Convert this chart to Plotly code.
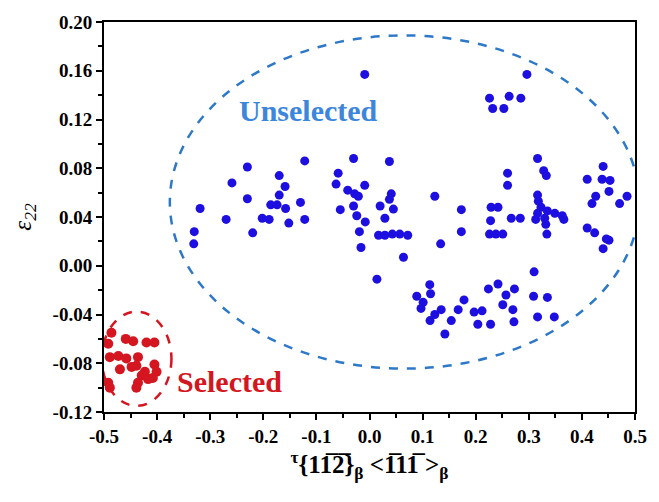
import plotly.graph_objects as go

# ---- data ----
blue_x = [-0.331, -0.330, -0.319, -0.270, -0.259, -0.230, -0.230, -0.220, -0.202, -0.189,
          -0.186, -0.174, -0.170, -0.170, -0.159, -0.158, -0.152, -0.130, -0.122, -0.122,
          -0.063, -0.059, -0.055, -0.030,
          -0.009, 0.0375, -0.041, -0.028, -0.021, -0.009, -0.030, -0.024, -0.008, -0.019,
          -0.016, 0.041, 0.0375, 0.020, 0.045, 0.029, 0.017, 0.029, 0.043, 0.057,
          0.072, 0.123, 0.134, 0.064, 0.014, 0.173, 0.173,
          0.226, 0.263, 0.285, 0.232, 0.253, 0.2965,
          0.260, 0.260, 0.229, 0.242, 0.228, 0.226, 0.238, 0.251, 0.267, 0.284,
          0.3165, 0.328, 0.333, 0.3165, 0.318, 0.323, 0.3165, 0.335, 0.349, 0.366,
          0.363, 0.313, 0.330, 0.332, 0.334,
          0.410, 0.440, 0.438, 0.453, 0.451, 0.426, 0.419, 0.485, 0.471, 0.410,
          0.424, 0.446, 0.451, 0.440,
          0.310, 0.1135, 0.115, 0.089, 0.101, 0.097, 0.135, 0.123, 0.114, 0.178,
          0.167, 0.154, 0.142, 0.197, 0.212, 0.204, 0.228, 0.224, 0.242, 0.257,
          0.251, 0.273, 0.270, 0.272, 0.309, 0.335, 0.3165, 0.348]
blue_y = [0.018, 0.028, 0.047, 0.038, 0.068, 0.081, 0.055, 0.027, 0.039, 0.038,
          0.050, 0.050, 0.074, 0.058, 0.065, 0.047, 0.035, 0.052, 0.038, 0.086,
          0.067, 0.076, 0.046, 0.088,
          0.157, 0.0855, 0.062, 0.059, 0.057, 0.066, 0.049, 0.041, 0.036, 0.028,
          0.015, 0.059, 0.0545, 0.049, 0.0465, 0.039, 0.025, 0.025, 0.026, 0.026,
          0.025, 0.057, 0.018, 0.007, -0.011, 0.046, 0.028,
          0.1375, 0.139, 0.1375, 0.129, 0.129, 0.157,
          0.076, 0.066, 0.048, 0.048, 0.037, 0.026, 0.026, 0.026, 0.039, 0.039,
          0.088, 0.078, 0.074, 0.058, 0.053, 0.048, 0.043, 0.045, 0.043, 0.038,
          0.041, 0.038, 0.039, 0.034, 0.026,
          0.071, 0.0815, 0.071, 0.070, 0.061, 0.057, 0.051, 0.057, 0.051, 0.031,
          0.027, 0.022, 0.021, 0.014,
          -0.005, -0.0155, -0.023, -0.025, -0.030, -0.035, -0.036, -0.040, -0.045, -0.028,
          -0.036, -0.045, -0.056, -0.038, -0.037, -0.048, -0.048, -0.019, -0.015, -0.024,
          -0.032, -0.019, -0.036, -0.046, -0.025, -0.026, -0.042, -0.042]

red_x = [-0.486, -0.492, -0.459, -0.445, -0.420, -0.405, -0.489, -0.473, -0.458, -0.436,
         -0.470, -0.448, -0.439, -0.405, -0.401, -0.423, -0.429, -0.417, -0.408, -0.492,
         -0.489, -0.436, -0.439]
red_y = [-0.055, -0.064, -0.060, -0.062, -0.063, -0.063, -0.075, -0.074, -0.076, -0.075,
         -0.085, -0.083, -0.082, -0.081, -0.087, -0.087, -0.090, -0.093, -0.092, -0.096,
         -0.100, -0.096, -0.100]

x_ticks = [-0.5, -0.4, -0.3, -0.2, -0.1, 0.0, 0.1, 0.2, 0.3, 0.4, 0.5]
x_labels = ["-0.5", "-0.4", "-0.3", "-0.2", "-0.1", "0.0", "0.1", "0.2", "0.3", "0.4", "0.5"]
y_ticks = [-0.12, -0.08, -0.04, 0.0, 0.04, 0.08, 0.12, 0.16, 0.20]
y_labels = ["-0.12", "-0.08", "-0.04", "0.00", "0.04", "0.08", "0.12", "0.16", "0.20"]
x_minor = [-0.45, -0.35, -0.25, -0.15, -0.05, 0.05, 0.15, 0.25, 0.35, 0.45]
y_minor = [-0.10, -0.06, -0.02, 0.02, 0.06, 0.10, 0.14, 0.18]

BLUE = "rgb(30,15,225)"
RED = "rgb(212,22,32)"
FONT = "Liberation Serif"

fig = go.Figure()
fig.add_trace(go.Scatter(x=blue_x, y=blue_y, mode="markers",
                         marker=dict(color=BLUE, size=9, line=dict(width=0)),
                         name="Unselected", showlegend=False))
fig.add_trace(go.Scatter(x=red_x, y=red_y, mode="markers",
                         marker=dict(color=RED, size=10, line=dict(width=0)),
                         name="Selected", showlegend=False))

# dashed ellipses
fig.add_shape(type="circle", xref="x", yref="y",
              x0=-0.376, x1=0.508, y0=-0.0844, y1=0.189,
              line=dict(color="rgb(45,120,200)", width=2.5, dash="dash"))
fig.add_shape(type="circle", xref="x", yref="y",
              x0=-0.504, x1=-0.373, y0=-0.115, y1=-0.0376,
              line=dict(color=RED, width=2.5, dash="dash"))

fig.add_annotation(x=-0.114, y=0.127, xref="x", yref="y", text="<b>Unselected</b>",
                   showarrow=False, font=dict(family=FONT, size=30, color="rgb(60,135,220)"))
fig.add_annotation(x=-0.264, y=-0.095, xref="x", yref="y", text="<b>Selected</b>",
                   showarrow=False, font=dict(family=FONT, size=30, color=RED))

axis_common = dict(showgrid=False, zeroline=False, showline=True, linecolor="black",
                   linewidth=2, mirror=True, ticks="outside", tickwidth=2,
                   tickcolor="black", ticklen=6, ticklabeloverflow="allow",
                   tickfont=dict(family=FONT, size=19, color="black", weight="bold"))

fig.update_xaxes(range=[-0.5, 0.5], tickmode="array", tickvals=x_ticks, ticktext=x_labels,
                 minor=dict(tickmode="array", tickvals=x_minor, ticks="outside",
                            ticklen=4, tickwidth=2, tickcolor="black", showgrid=False),
                 title=dict(text="<b><sup>τ</sup>{11\u03052\u0305}<sub>β</sub> &lt;1\u030511\u0305 &gt;<sub>β</sub></b>",
                            font=dict(family=FONT, size=25, color="black"), standoff=6),
                 **axis_common)
fig.update_yaxes(range=[-0.12, 0.20], tickmode="array", tickvals=y_ticks, ticktext=y_labels,
                 minor=dict(tickmode="array", tickvals=y_minor, ticks="outside",
                            ticklen=4, tickwidth=2, tickcolor="black", showgrid=False),
                 title=dict(text="<i>ε<sub>22</sub></i>",
                            font=dict(family=FONT, size=25, color="black"), standoff=14),
                 **axis_common)

fig.update_layout(width=659, height=502, margin=dict(l=104, r=19, t=16, b=90),
                  plot_bgcolor="white", paper_bgcolor="white", showlegend=False)

# remove the default page margin so the figure sits at the window origin
fig.write_html("out.html", config={"displayModeBar": False},
               post_script="document.body.style.margin='0';document.body.style.overflow='hidden';")
